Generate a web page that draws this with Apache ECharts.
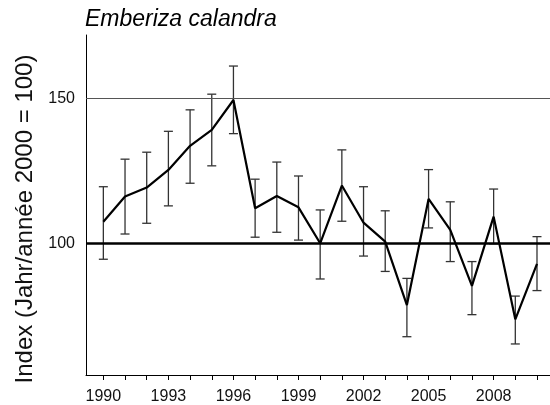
<!DOCTYPE html>
<html>
<head>
<meta charset="utf-8">
<script src="https://cdn.jsdelivr.net/npm/echarts@6/dist/echarts.min.js"></script>
<style>
  html, body { margin: 0; padding: 0; background: #fff; }
  #chart { width: 550px; height: 405px; }
</style>
</head>
<body>
<div id="chart"></div>
<script>
// Jahre / années
var years = [1990, 1991, 1992, 1993, 1994, 1995, 1996, 1997, 1998, 1999, 2000,
             2001, 2002, 2003, 2004, 2005, 2006, 2007, 2008, 2009, 2010];
// Index (2000 = 100)
var index = [107.4, 116.1, 119.2, 125.3, 133.6, 139.1, 149.4, 112.1, 116.3, 112.4, 100,
             119.9, 107.1, 100.6, 78.7, 115.3, 104.6, 85.3, 109.2, 73.8, 92.9];
// Vertrauensintervall unten / oben
var lower = [94.5, 103.2, 106.9, 112.9, 120.7, 126.7, 137.8, 102.1, 103.8, 101.1, 87.7,
             107.6, 95.6, 90.3, 67.8, 105.3, 93.7, 75.4, 99.8, 65.3, 83.7];
var upper = [119.5, 129.0, 131.4, 138.6, 146.0, 151.4, 161.1, 122.1, 128.0, 123.2, 111.5,
             132.2, 119.5, 111.2, 87.9, 125.4, 114.3, 93.7, 118.7, 81.8, 102.3];
var tickYears = years;
var labelYears = [1990, 1993, 1996, 1999, 2002, 2005, 2008];
var yLabels = [100, 150];

var chart = echarts.init(document.getElementById('chart'));

var lineData = years.map(function (y, i) { return [y, index[i]]; });
var errData = years.map(function (y, i) { return [y, lower[i], upper[i]]; });

var option = {
    animation: false,
    backgroundColor: '#fff',
    title: {
        text: 'Emberiza calandra',
        left: 85,
        top: 8,
        padding: 0,
        textStyle: {
            fontFamily: 'Liberation Sans',
            fontStyle: 'italic',
            fontWeight: 'normal',
            fontSize: 23,
            color: '#000'
        }
    },
    graphic: [{
        type: 'text',
        x: 25,
        y: 219,
        rotation: Math.PI / 2,
        style: {
            text: 'Index (Jahr/année 2000 = 100)',
            font: '24px "Liberation Sans"',
            fill: '#111',
            textAlign: 'center',
            textVerticalAlign: 'middle'
        }
    }],
    grid: { left: 86, right: 0, top: 35, bottom: 30 },
    xAxis: {
        type: 'value',
        min: 1989.2,
        max: 2010.6,
        axisLine: { lineStyle: { color: '#000', width: 1 } },
        axisTick: {
            show: true,
            length: 5,
            customValues: tickYears,
            lineStyle: { color: '#000' }
        },
        axisLabel: {
            customValues: labelYears,
            formatter: function (v) { return String(v); },
            margin: 14,
            fontFamily: 'Liberation Sans',
            fontSize: 16,
            color: '#111'
        },
        splitLine: { show: false }
    },
    yAxis: {
        type: 'value',
        min: 54.6,
        max: 171.8,
        axisLine: { show: true, lineStyle: { color: '#000', width: 1 } },
        axisTick: { show: false },
        axisLabel: {
            customValues: yLabels,
            margin: 11,
            fontFamily: 'Liberation Sans',
            fontSize: 16,
            color: '#111'
        },
        splitLine: { show: false }
    },
    series: [
        {
            type: 'custom',
            data: errData,
            silent: true,
            z: 3,
            renderItem: function (params, api) {
                var x = api.value(0);
                var lo = api.coord([x, api.value(1)]);
                var hi = api.coord([x, api.value(2)]);
                var cap = 4.5;
                var style = { stroke: '#333', lineWidth: 1.3 };
                return {
                    type: 'group',
                    children: [
                        { type: 'line', shape: { x1: lo[0], y1: lo[1], x2: hi[0], y2: hi[1] }, style: style },
                        { type: 'line', shape: { x1: lo[0] - cap, y1: lo[1], x2: lo[0] + cap, y2: lo[1] }, style: style },
                        { type: 'line', shape: { x1: hi[0] - cap, y1: hi[1], x2: hi[0] + cap, y2: hi[1] }, style: style }
                    ]
                };
            }
        },
        {
            type: 'line',
            data: lineData,
            symbol: 'none',
            z: 4,
            lineStyle: { color: '#000', width: 2.2 },
            markLine: {
                silent: true,
                symbol: 'none',
                label: { show: false },
                data: [
                    { yAxis: 150, lineStyle: { color: '#555', width: 1.2, type: 'solid' } },
                    { yAxis: 100, lineStyle: { color: '#000', width: 2.5, type: 'solid' } }
                ]
            }
        }
    ]
};

chart.setOption(option);
</script>
</body>
</html>
